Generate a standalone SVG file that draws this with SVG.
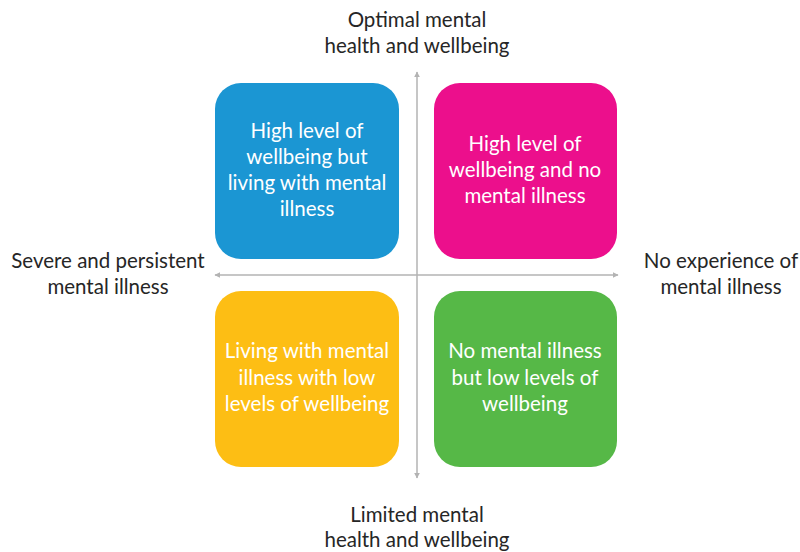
<svg xmlns="http://www.w3.org/2000/svg" width="800" height="552" viewBox="0 0 800 552">
<style>
.lbl{font-family:Lato,"Open Sans","Liberation Sans",sans-serif;font-size:20.5px;fill:#262626;text-anchor:middle}
.box text{font-family:Lato,"Open Sans","Liberation Sans",sans-serif;font-size:20.5px;fill:#ffffff;text-anchor:middle}
.axis{stroke:#b3b3b3;stroke-width:1.5;fill:none}
</style>
<defs>
<marker id="ah" viewBox="0 0 10 10" refX="9" refY="5" markerWidth="6" markerHeight="6" orient="auto-start-reverse" markerUnits="userSpaceOnUse">
<path d="M0,0 L10,5 L0,10 z" fill="#b3b3b3"/>
</marker>
</defs>
<rect width="800" height="552" fill="#ffffff"/>
<g id="connectors">
<line class="axis" x1="417" y1="478" x2="417" y2="72" marker-start="url(#ah)" marker-end="url(#ah)"/>
<line class="axis" x1="215" y1="275" x2="618" y2="275" marker-start="url(#ah)" marker-end="url(#ah)"/>
</g>
<g id="q-top-left" class="box">
<rect x="215" y="83" width="184" height="176" rx="26" fill="#1b96d3"/>
<text x="307" y="138">High level of</text>
<text x="307" y="164">wellbeing but</text>
<text x="307" y="190">living with mental</text>
<text x="307" y="216">illness</text>
</g>
<g id="q-top-right" class="box">
<rect x="434" y="83" width="183" height="176" rx="26" fill="#ec0f8c"/>
<text x="525" y="151">High level of</text>
<text x="525" y="177">wellbeing and no</text>
<text x="525" y="203">mental illness</text>
</g>
<g id="q-bottom-left" class="box">
<rect x="215" y="291" width="184" height="176" rx="26" fill="#fdbe14"/>
<text x="307" y="358">Living with mental</text>
<text x="307" y="385">illness with low</text>
<text x="307" y="411">levels of wellbeing</text>
</g>
<g id="q-bottom-right" class="box">
<rect x="434" y="291" width="183" height="176" rx="26" fill="#56b847"/>
<text x="525" y="358">No mental illness</text>
<text x="525" y="385">but low levels of</text>
<text x="525" y="411">wellbeing</text>
</g>
<g id="label-top">
<text class="lbl" x="417" y="27">Optimal mental</text>
<text class="lbl" x="417" y="53">health and wellbeing</text>
</g>
<g id="label-bottom">
<text class="lbl" x="417" y="522">Limited mental</text>
<text class="lbl" x="417" y="547">health and wellbeing</text>
</g>
<g id="label-left">
<text class="lbl" x="108" y="268">Severe and persistent</text>
<text class="lbl" x="108" y="294">mental illness</text>
</g>
<g id="label-right">
<text class="lbl" x="721" y="268">No experience of</text>
<text class="lbl" x="721" y="294">mental illness</text>
</g>
</svg>
